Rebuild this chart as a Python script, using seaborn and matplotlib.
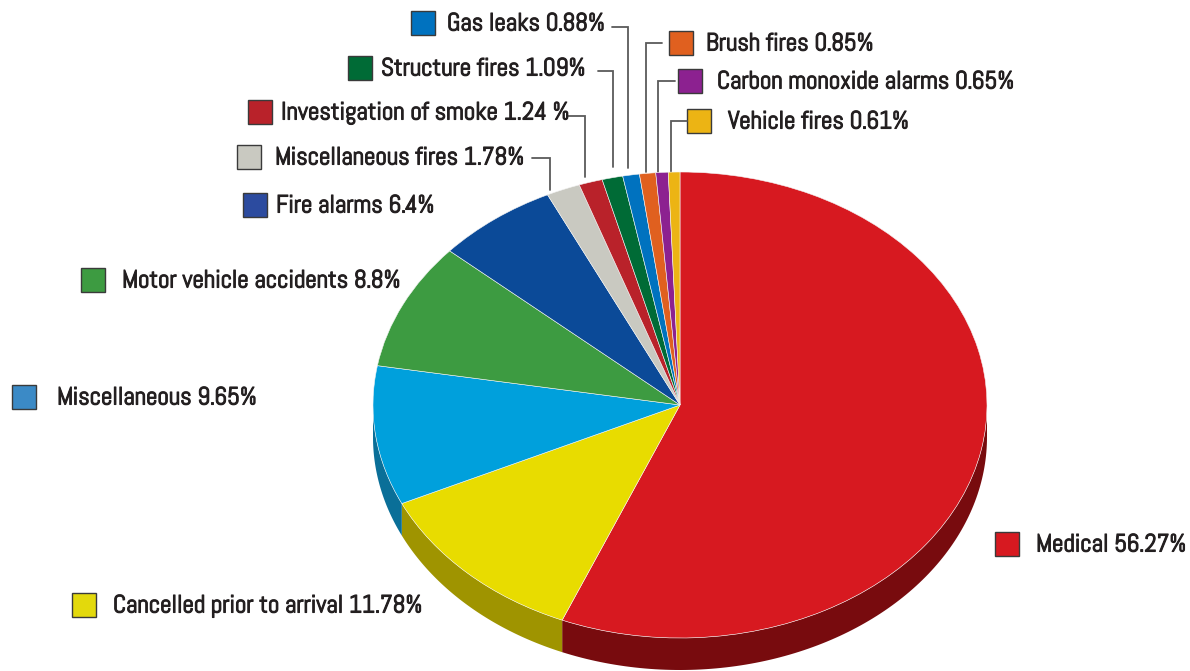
import matplotlib
matplotlib.use("Agg")
import numpy as np
import seaborn as sns
import matplotlib.pyplot as plt
from matplotlib.patches import Rectangle
from matplotlib import font_manager
import matplotlib.patheffects as pe

# ---------------- data ----------------
categories = ["Medical", "Cancelled prior to arrival", "Miscellaneous",
              "Motor vehicle accidents", "Fire alarms", "Miscellaneous fires",
              "Investigation of smoke", "Structure fires", "Gas leaks",
              "Brush fires", "Carbon monoxide alarms", "Vehicle fires"]
values = [56.27, 11.78, 9.65, 8.8, 6.4, 1.78, 1.24, 1.09, 0.88, 0.85, 0.65, 0.61]
value_labels = ["56.27%", "11.78%", "9.65%", "8.8%", "6.4%", "1.78%",
                "1.24 %", "1.09%", "0.88%", "0.85%", "0.65%", "0.61%"]

top_colors = ["#d71920", "#e8dc00", "#00a0dc", "#3d9b41", "#0b4a98", "#c9c9c1",
              "#b9222a", "#006b36", "#0072bf", "#e0601f", "#8c2190", "#ecb414"]
side_colors = ["#780b0e", "#9f9400", "#0a6f98", "#2a6e2d", "#06306a", "#8e8e88",
               "#80161c", "#004a25", "#004f86", "#9e4315", "#621765", "#a67e0e"]
legend_colors = ["#d71920", "#e3d90c", "#3b8ac6", "#3d9b41", "#2c4b9f", "#c9c9c1",
                 "#b9222a", "#006b36", "#0072bf", "#e0601f", "#8c2190", "#ecb414"]

# ---------------- layout (pixels) ----------------
W, H = 1190, 671
CX, CY, RX, RY, DEPTH = 680, 405, 307, 233, 32
SQ = 24
# square left x, centre y, text x
label_pos = [(995, 544, 1036), (72, 605, 113), (12, 397, 57), (81, 280, 122),
             (243, 205, 276), (237, 157, 275), (248, 112, 281), (348, 68, 381),
             (411, 23, 447), (669, 43, 706), (678, 81, 717), (687, 121, 728)]
# leader: start x, y, vertical x, end y
leaders = {5: (532, 158, 550, 190), 6: (568, 116, 585, 177), 7: (598, 71, 613, 167),
           8: (612, 27, 628, 168), 9: (662, 43, 646, 172), 10: (675, 81, 658, 172),
           11: (687, 121, 671, 172)}

sns.set_style("white")
names = {f.name for f in font_manager.fontManager.ttflist}
FONT = next((f for f in ["Abel", "Sofia Sans Condensed", "Roboto Condensed"] if f in names),
            "DejaVu Sans")
plt.rcParams["font.family"] = [FONT, "DejaVu Sans"]

fig = plt.figure(figsize=(W / 100, H / 100), dpi=100, facecolor="white")
ax = fig.add_axes([0, 0, 1, 1])
ax.set_xlim(0, W)
ax.set_ylim(H, 0)
ax.axis("off")

d = DEPTH / RY
pax = fig.add_axes([(CX - RX) / W, (H - (CY + RY + DEPTH)) / H,
                    2 * RX / W, (2 * RY + DEPTH) / H])
wedges, _ = pax.pie(values, colors=top_colors, startangle=90, counterclock=False,
                    wedgeprops=dict(linewidth=0.4, edgecolor="#f4f4f4"))
pax.set_aspect("auto")
pax.set_xlim(-1, 1)
pax.set_ylim(-1 - d, 1)
pax.axis("off")

for w, sc in zip(wedges, side_colors):
    t1, t2 = w.theta1, w.theta2
    for shift in (-360, 0, 360):
        a = max(t1 + shift, 180)
        b = min(t2 + shift, 360)
        if b > a:
            t = np.radians(np.linspace(a, b, 120))
            xs = np.concatenate([np.cos(t), np.cos(t[::-1])])
            ys = np.concatenate([np.sin(t), np.sin(t[::-1]) - d])
            pax.fill(xs, ys, color=sc, lw=0, zorder=0.5)

for i, (cat, vl) in enumerate(zip(categories, value_labels)):
    sx, cy, tx = label_pos[i]
    ax.add_patch(Rectangle((sx, cy - SQ / 2), SQ, SQ, facecolor=legend_colors[i],
                           edgecolor="#3a3a3a", lw=1.0))
    ax.text(tx, cy + 1, f"{cat} {vl}", fontsize=18, va="center", ha="left",
            color="#231f20",
            path_effects=[pe.withStroke(linewidth=0.8, foreground="#231f20")])

for i, (x0, y0, xv, y1) in leaders.items():
    ax.plot([x0, xv, xv], [y0, y0, y1], color="#5a5a5a", lw=1.3,
            solid_joinstyle="miter")

fig.savefig("out.png", dpi=100, facecolor="white")
